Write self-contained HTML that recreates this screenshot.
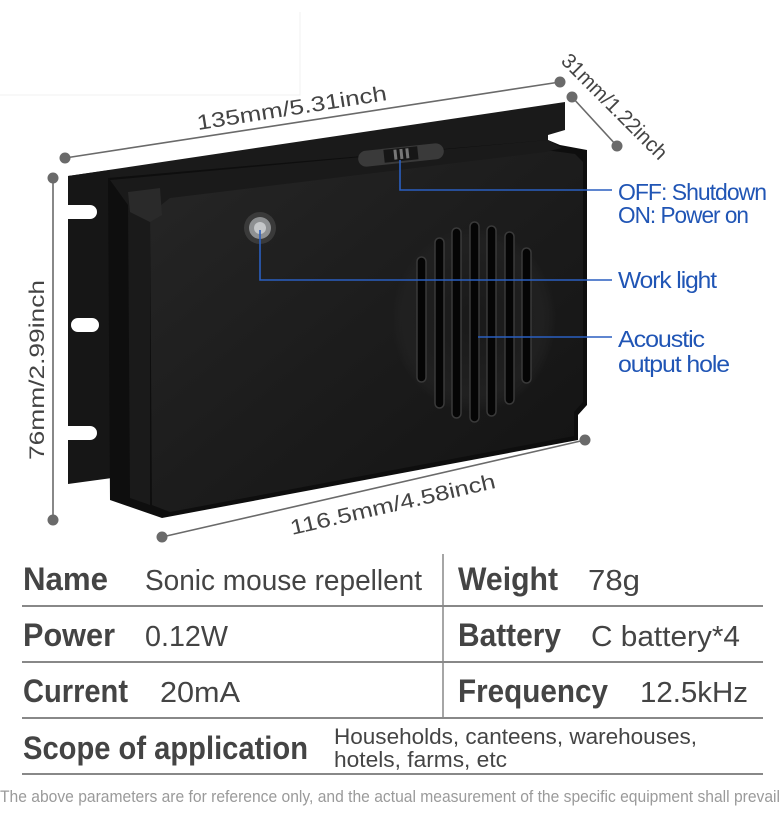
<!DOCTYPE html>
<html><head><meta charset="utf-8"><style>
html,body{margin:0;padding:0;background:#fff;}
svg{display:block;}
</style></head><body>
<svg width="780" height="825" viewBox="0 0 780 825" xmlns="http://www.w3.org/2000/svg" font-family="Liberation Sans, sans-serif">
<defs>
<linearGradient id="bg" x1="0" y1="0" x2="1" y2="1">
<stop offset="0" stop-color="#262626"/><stop offset="0.5" stop-color="#1c1c1c"/><stop offset="1" stop-color="#131313"/>
</linearGradient>
<radialGradient id="spk" cx="0.5" cy="0.5" r="0.5">
<stop offset="0" stop-color="#191919"/><stop offset="0.8" stop-color="#202020"/><stop offset="1" stop-color="#262626" stop-opacity="0"/>
</radialGradient>
</defs>
<path d="M0 95 H300 V12" fill="none" stroke="#f0f0f0" stroke-width="1"/>
<!-- flange -->
<polygon points="68,176 565,102 565,130 548,135 548,150 200,196 180,470 110,482 110,470 68,470" fill="#1a1a1a"/>
<polygon points="68,176 110,170 112,478 68,484" fill="#161616"/>
<path d="M68 205 h22 a7 7 0 0 1 0 14 h-22 z M78 318 h14 a7 7 0 0 1 0 14 h-14 a7 7 0 0 1 0 -14z M68 426 h22 a7 7 0 0 1 0 14 h-22 z" fill="#fff"/>
<!-- body -->
<polygon points="108,178 548,140 560,145 587,150 587,405 578,415 578,440 162,518 110,500" fill="#0e0e0e"/>
<polygon points="150,214 170,196 545,150 575,154 583,162 583,402 574,412 574,436 170,512 152,505" fill="url(#bg)"/>
<polygon points="110,180 548,140 562,148 545,152 170,198 150,214 150,505 130,498 128,205" fill="#1a1a1a"/>
<polygon points="128,192 160,188 162,215 150,222 130,212" fill="#2a2a2a"/>
<!-- switch -->
<g transform="rotate(-6 401 155)">
<rect x="358" y="147" width="86" height="16" rx="8" fill="#3a3a3a"/>
<rect x="384" y="148" width="34" height="13" fill="#161616"/>
<rect x="394" y="149" width="3" height="10" fill="#777"/>
<rect x="400" y="149" width="3" height="10" fill="#777"/>
<rect x="406" y="149" width="3" height="10" fill="#777"/>
</g>
<!-- led -->
<circle cx="260" cy="228" r="16" fill="#3a3a3a"/>
<circle cx="260" cy="228" r="11" fill="#8e9092"/>
<circle cx="260" cy="228" r="6" fill="#c5c7c9"/>
<!-- speaker -->
<ellipse cx="474" cy="320" rx="82" ry="92" fill="url(#spk)"/>
<g fill="#050505" stroke="#3a3a3a" stroke-width="1.5">
<rect x="417" y="257" width="9" height="125" rx="4.5"/>
<rect x="435" y="238" width="9" height="170" rx="4.5"/>
<rect x="452" y="228" width="9" height="190" rx="4.5"/>
<rect x="470" y="222" width="9" height="200" rx="4.5"/>
<rect x="487" y="226" width="9" height="190" rx="4.5"/>
<rect x="505" y="232" width="9" height="172" rx="4.5"/>
<rect x="522" y="248" width="9" height="135" rx="4.5"/>
</g>
<!-- blue callouts -->
<g stroke="#2a5fc0" stroke-width="1.6" fill="none">
<polyline points="400,160 400,190 612,190"/>
<polyline points="260,230 260,280 612,280"/>
<polyline points="478,337 612,337"/>
</g>
<g fill="#2055b5" font-size="23" letter-spacing="-1">
<text x="618" y="200" textLength="148" lengthAdjust="spacingAndGlyphs">OFF: Shutdown</text>
<text x="618" y="223" textLength="130" lengthAdjust="spacingAndGlyphs">ON: Power on</text>
<text x="618" y="288" textLength="98" lengthAdjust="spacingAndGlyphs">Work light</text>
<text x="618" y="347" textLength="86" lengthAdjust="spacingAndGlyphs">Acoustic</text>
<text x="618" y="372" textLength="111" lengthAdjust="spacingAndGlyphs">output hole</text>
</g>
<!-- dimension lines -->
<g stroke="#6a6a6a" stroke-width="1.6" fill="#6a6a6a">
<line x1="65" y1="158" x2="560" y2="82"/>
<line x1="572" y1="97" x2="617" y2="146"/>
<line x1="53" y1="178" x2="53" y2="520"/>
<line x1="162" y1="537" x2="585" y2="440"/>
<circle cx="65" cy="158" r="5.5" stroke="none"/>
<circle cx="560" cy="82" r="5.5" stroke="none"/>
<circle cx="572" cy="97" r="5.5" stroke="none"/>
<circle cx="617" cy="146" r="5.5" stroke="none"/>
<circle cx="53" cy="178" r="5.5" stroke="none"/>
<circle cx="53" cy="520" r="5.5" stroke="none"/>
<circle cx="162" cy="537" r="5.5" stroke="none"/>
<circle cx="585" cy="440" r="5.5" stroke="none"/>
</g>
<g fill="#444" font-size="21">
<text transform="translate(198,130) rotate(-9)" textLength="192" lengthAdjust="spacingAndGlyphs">135mm/5.31inch</text>
<text transform="translate(560,62) rotate(45)" textLength="140" lengthAdjust="spacingAndGlyphs">31mm/1.22inch</text>
<text transform="translate(44,460) rotate(-90)" textLength="180" lengthAdjust="spacingAndGlyphs">76mm/2.99inch</text>
<text transform="translate(292,535) rotate(-13)" textLength="210" lengthAdjust="spacingAndGlyphs">116.5mm/4.58inch</text>
</g>
<!-- table -->
<g stroke="#888" stroke-width="2">
<line x1="22" y1="606" x2="763" y2="606"/>
<line x1="22" y1="662" x2="763" y2="662"/>
<line x1="22" y1="718" x2="763" y2="718"/>
<line x1="22" y1="774" x2="763" y2="774"/>
<line x1="443" y1="554" x2="443" y2="718" stroke-width="1.5"/>
</g>
<g fill="#444">
<g font-size="32" font-weight="bold">
<text x="23" y="590" textLength="85" lengthAdjust="spacingAndGlyphs">Name</text>
<text x="23" y="646" textLength="92" lengthAdjust="spacingAndGlyphs">Power</text>
<text x="23" y="702" textLength="105" lengthAdjust="spacingAndGlyphs">Current</text>
<text x="23" y="759" textLength="285" lengthAdjust="spacingAndGlyphs">Scope of application</text>
<text x="458" y="590" textLength="100" lengthAdjust="spacingAndGlyphs">Weight</text>
<text x="458" y="646" textLength="103" lengthAdjust="spacingAndGlyphs">Battery</text>
<text x="458" y="702" textLength="150" lengthAdjust="spacingAndGlyphs">Frequency</text>
</g>
<g font-size="29">
<text x="145" y="590" textLength="277" lengthAdjust="spacingAndGlyphs">Sonic mouse repellent</text>
<text x="145" y="646" textLength="83" lengthAdjust="spacingAndGlyphs">0.12W</text>
<text x="160" y="702" textLength="80" lengthAdjust="spacingAndGlyphs">20mA</text>
<text x="588" y="590" textLength="52" lengthAdjust="spacingAndGlyphs">78g</text>
<text x="591" y="646" textLength="149" lengthAdjust="spacingAndGlyphs">C battery*4</text>
<text x="640" y="702" textLength="108" lengthAdjust="spacingAndGlyphs">12.5kHz</text>
</g>
<g font-size="22">
<text x="334" y="744" textLength="363" lengthAdjust="spacingAndGlyphs">Households, canteens, warehouses,</text>
<text x="334" y="767" textLength="173" lengthAdjust="spacingAndGlyphs">hotels, farms, etc</text>
</g>
</g>
<text x="0" y="802" font-size="17" fill="#9a9a9a" textLength="780" lengthAdjust="spacingAndGlyphs">The above parameters are for reference only, and the actual measurement of the specific equipment shall prevail</text>
</svg>
</body></html>
